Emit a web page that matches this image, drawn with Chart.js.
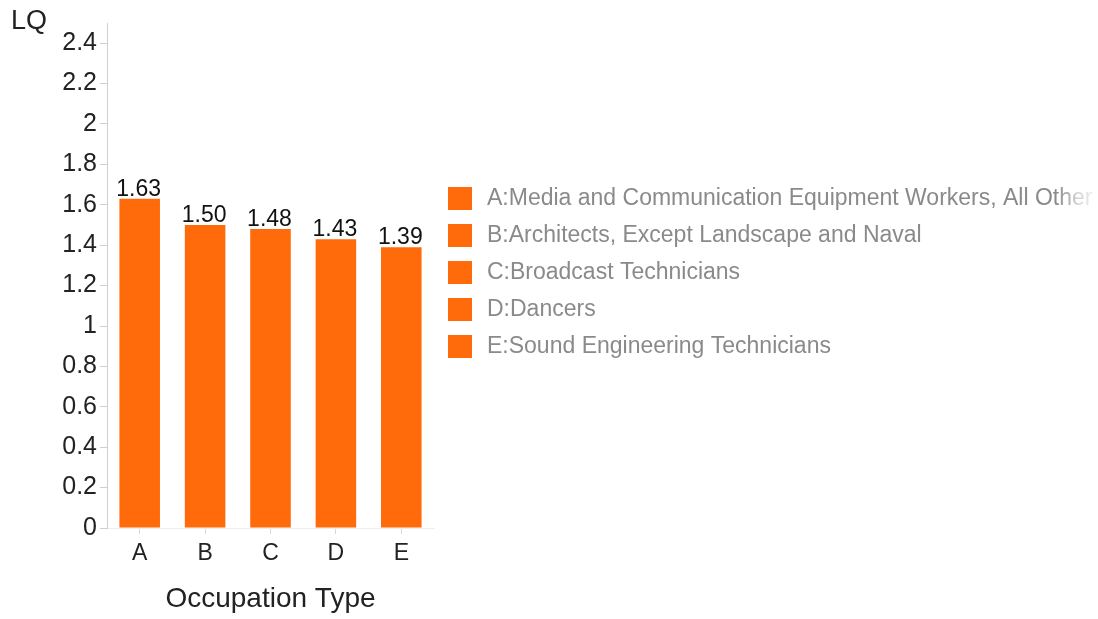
<!DOCTYPE html>
<html>
<head>
<meta charset="utf-8">
<script src="https://cdn.jsdelivr.net/npm/chart.js@4/dist/chart.umd.min.js"></script>
<style>
  html, body { margin: 0; padding: 0; background: #fff; }
  #wrap { width: 1098px; height: 619px; }
</style>
</head>
<body>
<div id="wrap"><canvas id="lqChart"></canvas></div>
<script>
const codes = ['A', 'B', 'C', 'D', 'E'];
const occupations = [
	'Media and Communication Equipment Workers, All Other',
	'Architects, Except Landscape and Naval',
	'Broadcast Technicians',
	'Dancers',
	'Sound Engineering Technicians'
];
const lqValues = [1.63, 1.50, 1.48, 1.43, 1.39];
const yTicks = [0, 0.2, 0.4, 0.6, 0.8, 1, 1.2, 1.4, 1.6, 1.8, 2, 2.2, 2.4];

const barColor = '#ff6a0a';
const fontFamily = '"Liberation Sans", Arial, Helvetica, sans-serif';

// value labels over bars, the "LQ" caption and the side legend
const extras = {
	id: 'extras',
	afterDatasetsDraw(chart) {
		const ctx = chart.ctx;
		const meta = chart.getDatasetMeta(0);
		ctx.save();
		ctx.fillStyle = '#111';
		ctx.font = '23px ' + fontFamily;
		ctx.textAlign = 'center';
		ctx.textBaseline = 'alphabetic';
		meta.data.forEach((bar, i) => {
			ctx.fillText(lqValues[i].toFixed(2), bar.x - 1, bar.y - 3);
		});
		ctx.restore();
	},
	afterDraw(chart) {
		const ctx = chart.ctx;
		const area = chart.chartArea;
		ctx.save();
		ctx.fillStyle = '#222';
		ctx.font = '27px ' + fontFamily;
		ctx.textAlign = 'left';
		ctx.textBaseline = 'middle';
		ctx.fillText('LQ', 11, 22);

		const x0 = area.right + 14;
		let y = 187;
		ctx.font = '23px ' + fontFamily;
		occupations.forEach((name, i) => {
			ctx.fillStyle = barColor;
			ctx.fillRect(x0, y, 24, 23);
			ctx.fillStyle = '#8a8a8a';
			ctx.fillText(codes[i] + ':' + name, x0 + 39, y + 12);
			y += 37;
		});

		// text running off the right edge fades out
		const fade = ctx.createLinearGradient(1056, 0, 1098, 0);
		fade.addColorStop(0, 'rgba(255,255,255,0)');
		fade.addColorStop(0.5, 'rgba(255,255,255,0.6)');
		fade.addColorStop(1, 'rgba(255,255,255,0.95)');
		ctx.fillStyle = fade;
		ctx.fillRect(1056, 180, 42, 32);
		ctx.restore();
	}
};

new Chart(document.getElementById('lqChart'), {
	type: 'bar',
	data: {
		labels: codes,
		datasets: [{
			label: 'LQ',
			data: lqValues,
			backgroundColor: barColor,
			borderWidth: 0,
			categoryPercentage: 1,
			barPercentage: 0.62
		}]
	},
	options: {
		responsive: true,
		maintainAspectRatio: false,
		animation: false,
		layout: { padding: { left: 0, top: 23, right: 664, bottom: 0 } },
		plugins: {
			legend: { display: false },
			tooltip: { enabled: false }
		},
		scales: {
			x: {
				grid: { offset: false, drawOnChartArea: false, drawTicks: true, tickLength: 6, color: '#d8d8d8' },
				border: { display: true, color: '#eeeeee' },
				ticks: { color: '#222', font: { family: fontFamily, size: 23 }, padding: 6 },
				title: {
					display: true,
					text: 'Occupation Type',
					color: '#222',
					font: { family: fontFamily, size: 28 },
					padding: { top: 8, bottom: 3 }
				},
				afterFit(scale) { scale.height = 91; }
			},
			y: {
				min: 0,
				max: 2.5,
				grid: { drawOnChartArea: false, drawTicks: true, tickLength: 7, color: '#cfcfcf' },
				border: { display: true, color: '#cfcfcf' },
				afterBuildTicks(scale) {
					scale.ticks = yTicks.map(v => ({ value: v }));
				},
				ticks: {
					color: '#222',
					font: { family: fontFamily, size: 25 },
					padding: 3,
					callback: (v) => String(v)
				},
				afterFit(scale) { scale.width = 107; }
			}
		}
	},
	plugins: [extras]
});
</script>
</body>
</html>
